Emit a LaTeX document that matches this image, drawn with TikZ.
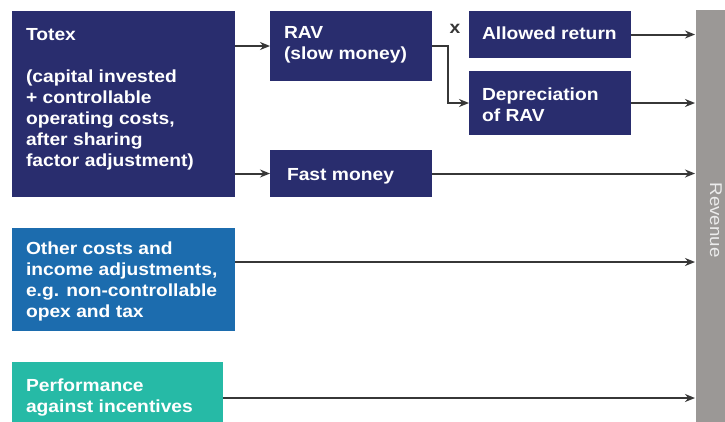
\documentclass[tikz,border=0pt]{standalone}
\usepackage{fontspec}
\setmainfont{Liberation Sans}[FakeStretch=1.1]
\usetikzlibrary{arrows.meta}
\definecolor{navy}{RGB}{41,45,110}
\definecolor{midblue}{RGB}{28,108,174}
\definecolor{teal}{RGB}{38,186,166}
\definecolor{bargrey}{RGB}{155,152,150}
\definecolor{arrgrey}{RGB}{55,55,55}
\definecolor{revtext}{RGB}{236,236,236}
\newcommand\boxfont{\fontsize{17.5pt}{21pt}\selectfont\bfseries}
\tikzset{
  box/.style={fill=#1, draw=none, inner sep=0pt, outer sep=0pt, anchor=north west},
  txt/.style={anchor=north west, inner sep=0pt, outer sep=0pt, align=left, text=white, font=\boxfont},
  arr/.style={draw=arrgrey, line width=2pt, -{Stealth[length=10pt,width=8pt]}},
}
\begin{document}
\begin{tikzpicture}[x=1pt,y=-1pt]
\useasboundingbox (0,0) rectangle (725,421);
\fill[white] (0,0) rectangle (725,421);
% boxes
\node[box=navy, minimum width=223pt, minimum height=186pt] (totex) at (12,11) {};
\node[box=navy, minimum width=162pt, minimum height=70pt] (rav) at (270,11) {};
\node[box=navy, minimum width=162pt, minimum height=47pt] (fast) at (270,150) {};
\node[box=navy, minimum width=162pt, minimum height=47pt] (allowed) at (469,11) {};
\node[box=navy, minimum width=162pt, minimum height=64pt] (dep) at (469,71) {};
\node[box=midblue, minimum width=223pt, minimum height=103pt] (other) at (12,228) {};
\node[box=teal, minimum width=211pt, minimum height=72pt] (perf) at (12,362) {};
\node[box=bargrey, minimum width=40pt, minimum height=430pt] (rev) at (696,10) {};
% texts
\node[txt] (totexT) at (26,25.3) {\strut Totex\\[21pt](capital invested\\+ controllable\\operating costs,\\after sharing\\factor adjustment)};
\node[txt] (ravT) at (284,23.3) {\strut RAV\\(slow money)};
\node[txt] (fastT) at (287,165.3) {\strut Fast money};
\node[txt] (allowedT) at (482,24.3) {\strut Allowed return};
\node[txt] (depT) at (482,85.3) {\strut Depreciation\\of RAV};
\node[txt] (otherT) at (26,239.3) {\strut Other costs and\\income adjustments,\\e.g. non-controllable\\opex and tax};
\node[txt] (perfT) at (26,376.3) {\strut Performance\\against incentives};
\node[inner sep=0pt, text=arrgrey, font=\boxfont] (times) at (455,29) {x};
\node[inner sep=0pt, rotate=-90, text=revtext, font=\fontsize{17pt}{20pt}\selectfont] (revT) at (716,220) {Revenue};
% connectors
\draw[arr] (totex.east |- rav.west) -- (rav.west);
\draw[arr] (totex.east |- fast.west) -- (fast.west);
\draw[arr] (rav.east) -- ++(16,0) |- (dep.west);
\draw[arr, shorten >=1pt] (allowed.east) -- (allowed.east -| rev.west);
\draw[arr, shorten >=1pt] (dep.east) -- (dep.east -| rev.west);
\draw[arr, shorten >=1pt] (fast.east) -- (fast.east -| rev.west);
\draw[arr, shorten >=1pt] ([yshift=17.5pt]other.east) -- ([yshift=17.5pt]other.east -| rev.west);
\draw[arr, shorten >=1pt] (perf.east) -- (perf.east -| rev.west);
\end{tikzpicture}
\end{document}
